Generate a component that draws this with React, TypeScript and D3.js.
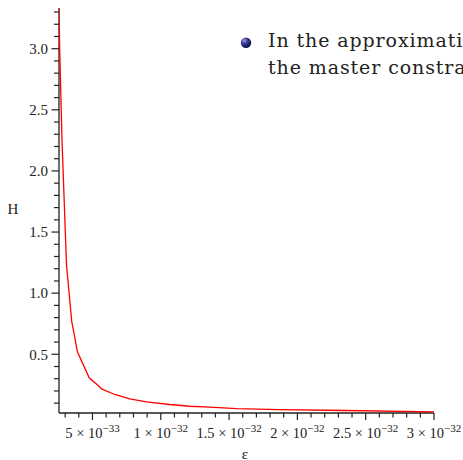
import React from "react";
import * as d3 from "d3";

// data, epsilon in units of 1e-33
const epsilon = [2.55, 2.6, 2.77, 3.1, 3.48, 3.9, 4.77, 5.42, 5.66, 6.63, 7.73, 8.95, 10.66, 12.1, 13.6, 15.56, 18.7, 23.5, 30];
const hValues = [3.33, 3.0, 2.25, 1.23, 0.77, 0.52, 0.306, 0.244, 0.217, 0.171, 0.136, 0.111, 0.089, 0.075, 0.067, 0.056, 0.048, 0.04, 0.029];

const xTickValues = [5, 10, 15, 20, 25, 30];
const xTickMantissa = ["5", "1", "1.5", "2", "2.5", "3"];
const xTickExponent = ["−33", "−32", "−32", "−32", "−32", "−32"];
const yTickValues = [0.5, 1.0, 1.5, 2.0, 2.5, 3.0];
const yTickLabels = ["0.5", "1.0", "1.5", "2.0", "2.5", "3.0"];
const legendLines = ["In the approximation", "the master constraint"];

export default function App() {
  const W = 463, H = 460;
  const x = d3.scaleLinear().domain([2.55, 30]).range([59, 434]);
  const y = d3.scaleLinear().domain([0.0196, 3.333]).range([413, 8]);
  const line = d3.line<number>().x((_, i) => x(epsilon[i])).y((d) => y(d));
  const xMinor = d3.range(3, 31, 1);
  const yMinor = d3.range(1, 34, 1).map((v) => v / 10);
  const font = "'Liberation Serif', 'Times New Roman', serif";
  return (
    <svg width={W} height={H} style={{ position: "absolute", left: 0, top: 0, background: "#fff" }}>
      <defs>
        <radialGradient id="ball" cx="0.35" cy="0.3" r="0.7">
          <stop offset="0" stopColor="#9a9ad8" />
          <stop offset="0.45" stopColor="#3a3a9a" />
          <stop offset="1" stopColor="#0c0c40" />
        </radialGradient>
        <clipPath id="plotclip">
          <rect x={59} y={8} width={380} height={406} />
        </clipPath>
      </defs>
      {/* axes */}
      <line x1={59} x2={59} y1={y(3.333)} y2={y(0.0196)} stroke="#222" strokeWidth={1.3} />
      <line x1={59} x2={x(30)} y1={413} y2={413} stroke="#222" strokeWidth={1.3} />
      {yMinor.map((v) => {
        const major = Math.round(v * 10) % 5 === 0;
        return <line key={"ym" + v} x1={major ? 51.5 : 54} x2={59} y1={y(v)} y2={y(v)} stroke="#222" strokeWidth={1.2} />;
      })}
      {xMinor.map((v) => {
        const major = v % 5 === 0;
        return <line key={"xm" + v} x1={x(v)} x2={x(v)} y1={413} y2={major ? 420 : 417.5} stroke="#222" strokeWidth={1.2} />;
      })}
      {yTickValues.map((v, i) => (
        <text key={"yl" + i} x={48} y={y(v)} dy="0.35em" textAnchor="end" fontFamily={font} fontSize={15} fill="#222">
          {yTickLabels[i]}
        </text>
      ))}
      {xTickValues.map((v, i) => (
        <text key={"xl" + i} x={x(v)} y={438} textAnchor="middle" fontFamily={font} fontSize={14.5} fill="#222">
          {xTickMantissa[i] + " × 10"}
          <tspan dy={-6} fontSize={11}>{xTickExponent[i]}</tspan>
        </text>
      ))}
      <text x={13} y={214} textAnchor="middle" fontFamily={font} fontSize={15} fill="#222">H</text>
      <text x={245} y={459} textAnchor="middle" fontFamily={font} fontSize={15} fill="#222">ε</text>
      <path d={line(hValues) || ""} fill="none" stroke="#ff0000" strokeWidth={1.3} clipPath="url(#plotclip)" />
      {/* legend bullet text */}
      <circle cx={246} cy={42.7} r={5.2} fill="url(#ball)" />
      {legendLines.map((t, i) => (
        <text key={"lg" + i} x={268} y={47 + i * 26.5} fontFamily="'DejaVu Serif', serif" fontSize={19} letterSpacing={0.9} fill="#222">
          {t}
        </text>
      ))}
    </svg>
  );
}
